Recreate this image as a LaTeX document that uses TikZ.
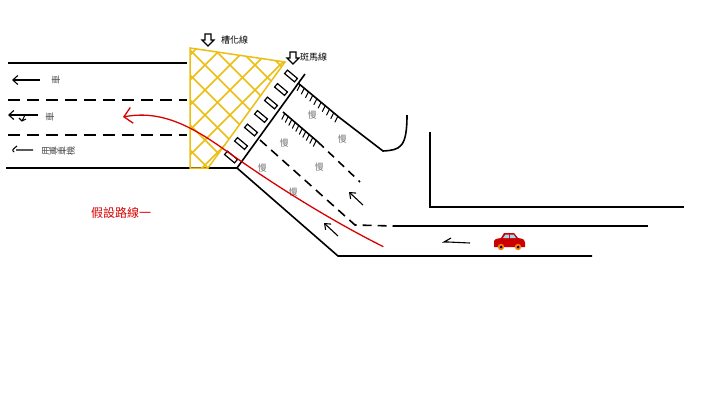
\documentclass[tikz,border=0pt]{standalone}
\usepackage{fontspec}
\newfontfamily\cjk{Noto Sans CJK TC}
\usetikzlibrary{arrows.meta,calc}
\begin{document}
\begin{tikzpicture}[x=1pt,y=-1pt,
  road/.style={line width=1.6pt,black},
  dash road/.style={road,dash pattern=on 12pt off 7pt},
  yell/.style={line width=1.5pt,draw={rgb,255:red,236;green,190;blue,20}},
  slow/.style={font=\cjk\fontsize{9}{9}\selectfont,text=black!55,inner sep=0},
  lab/.style={font=\cjk\fontsize{9}{9}\selectfont,inner sep=0,anchor=west},
  cw/.style={draw,line width=1.2pt,minimum width=13pt,minimum height=4.5pt,inner sep=0,rotate=-40},
  harrow/.style={line width=1.1pt,-{Straight Barb[length=5pt,width=8pt]}}]
\useasboundingbox (0,0) rectangle (720,405);
% left road
\draw[road] (8,63) -- (187,63);
\draw[dash road] (8,100) -- (187,100);
\draw[dash road] (8,135) -- (187,135);
\coordinate (corner) at (237,168);
\draw[road] (6,168) -- (corner) -- (338,256) -- (592,256);
% channelization triangle
\begin{scope}
\clip (190,48) -- (285,62) -- (208,168) -- (190,168) -- cycle;
\foreach \k in {-160,-135,...,160}{
  \draw[yell] (190+\k,40) -- ++(150,150);
  \draw[yell] (290+\k,40) -- ++(-150,150);}
\end{scope}
\draw[yell] (190,48) -- (285,62) -- (208,168) -- (190,168) -- cycle;
% crosswalk
\foreach \i in {0,...,6}{
  \node[cw] (c\i) at ($(291,76)!\i/6!(231,157)$) {};}
\draw[road] (corner) -- (305,74);
% hatched lines
\draw[road] (298,83) -- (340,118) -- (383,151) .. controls (400,150) and (407,148) .. (407,115);
\foreach \t in {0.05,0.15,...,0.95}{
  \draw[line width=1pt] ($(298,83)!\t!(340,118)$) -- ++(-3,6);}
\draw[road] (283,112) -- (318,142);
\foreach \t in {0.05,0.15,...,0.95}{
  \draw[line width=1pt] ($(283,112)!\t!(318,142)$) -- ++(-3,6);}
\draw[dash road,dash pattern=on 8pt off 6pt] (318,142) -- (360,182);
\draw[dash road,dash pattern=on 9pt off 6pt] (260,140) -- (355,225) -- (393,226);
\draw[road] (393,226) -- (648,226);
\draw[road] (430,132) -- (430,207) -- (684,207);
% slow markings
\foreach \p in {(312,115),(342,139),(284,143),(319,167),(262,168),(293,192)}
  \node[slow] at \p {慢};
% arrows
\draw[harrow] (363,205) -- (349,192);
\draw[harrow] (338,236) -- (324,223);
\draw[line width=1.1pt] (470,243) -- (448,242);
\draw[line width=1.1pt] (448,242) -- (444,242) -- (451,238);
% car
\begin{scope}[shift={(509,241)}]
\fill[red!80!black] (-15,6) -- (-15,0) .. controls (-14,-2) .. (-8,-3) -- (-5,-8) -- (5,-8) -- (9,-3) .. controls (15,-2) .. (16,2) -- (16,6) -- cycle;
\fill[cyan!40] (-3.5,-6.5) -- (0,-6.5) -- (0,-3) -- (-6,-3) -- cycle;
\fill[cyan!40] (1,-6.5) -- (4.5,-6.5) -- (7,-3) -- (1,-3) -- cycle;
\fill[orange] (-8,6) circle (3.2) (9,6) circle (3.2);
\fill[blue!50!black] (-8,6) circle (1.5) (9,6) circle (1.5);
\end{scope}
% red path
\node[inner sep=0] (rs) at (384,247) {};
\coordinate (re) at (123,117);
\draw[red!85!black,line width=1.3pt,-{Straight Barb[length=8pt,width=16pt]}]
  (rs) .. controls (320,215) and (260,175) .. (225,150) .. controls (190,125) and (160,110) .. (re);
\node[font=\cjk\fontsize{12}{12}\selectfont,text=red!85!black] (route) at (121,213) {假設路線一};
% left lane arrows and labels
\draw[line width=1.1pt,-{Straight Barb[length=5pt,width=9pt]}] (40,80) -- (12,80);
\node[slow,text=black!70] (l1) at (56,80) {\rotatebox{90}{車}};
\draw[line width=1.1pt,-{Straight Barb[length=5pt,width=9pt]}] (38,115) -- (8,115);
\draw[line width=1.1pt] (25,115) -- (22,121) (19,118) -- (22,121) -- (26,119);
\node[slow,text=black!70] (l2) at (50,117) {\rotatebox{90}{車}};
\draw[line width=1.1pt] (33,150) -- (16,150) (14,152) .. controls (12,150) .. (17,146);
\node[slow,text=black!70,anchor=west] (l3) at (42,151) {\rotatebox{90}{用}\rotatebox{90}{專}\rotatebox{90}{車}\rotatebox{90}{機}};
% label arrows
\node[lab] (t1) at (221,40) {槽化線};
\draw[line width=1.1pt] (205,34) -- (211,34) -- (211,40) -- (214,40) -- (208,46) -- (202,40) -- (205,40) -- cycle;
\node[lab] (t2) at (300,57) {斑馬線};
\draw[line width=1.1pt] (290,52) -- (296,52) -- (296,58) -- (299,58) -- (293,64) -- (287,58) -- (290,58) -- cycle;
\end{tikzpicture}
\end{document}
